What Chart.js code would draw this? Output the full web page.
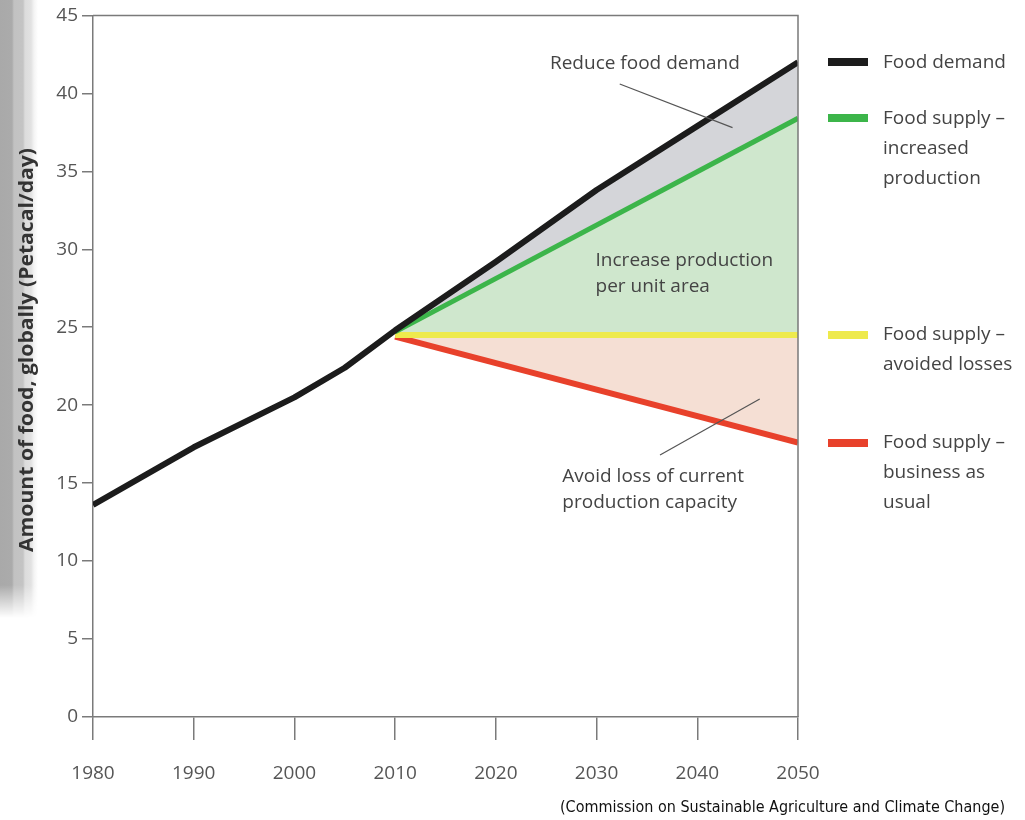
<!DOCTYPE html>
<html>
<head>
<meta charset="utf-8">
<script src="https://cdn.jsdelivr.net/npm/chart.js@4/dist/chart.umd.min.js"></script>
<style>
  html, body { margin: 0; padding: 0; background: #fff; }
  #wrap { position: relative; width: 1025px; height: 820px; }
  #strip {
    position: absolute; left: 0; top: 0; width: 40px; height: 620px;
    background: linear-gradient(to right, #a9a9a9 0, #ababab 12px, #c2c2c2 14px, #c4c4c4 23px, #dcdcdc 25px, #e2e2e2 31px, #f4f4f4 34px, #fff 38px);
    -webkit-mask-image: linear-gradient(to bottom, #000 585px, transparent 618px);
    mask-image: linear-gradient(to bottom, #000 585px, transparent 618px);
  }
  canvas { position: absolute; left: 0; top: 0; }
</style>
</head>
<body>
<div id="wrap">
  <div id="strip"></div>
  <canvas id="foodChart" width="1025" height="820"></canvas>
</div>
<script>
// demand history + projection
const demandYears = [1980, 1990, 2000, 2005, 2010, 2020, 2030, 2040, 2050];
const demandValues = [13.6, 17.3, 20.5, 22.4, 24.8, 29.2, 33.8, 37.9, 42.0];

// supply scenarios, 2010 -> 2050
const projYears = [2010, 2050];
const increasedProduction = [24.7, 38.4];
const avoidedLosses = [24.5, 24.5];
const businessAsUsual = [24.4, 17.6];

const yTicks = [0, 5, 10, 15, 20, 25, 30, 35, 40, 45];
const xTicks = [1980, 1990, 2000, 2010, 2020, 2030, 2040, 2050];

const seriesNames = ['Food demand', 'Food supply – increased production', 'Food supply – avoided losses', 'Food supply – business as usual'];
const legendLines = [
  ['Food demand'],
  ['Food supply –', 'increased', 'production'],
  ['Food supply –', 'avoided losses'],
  ['Food supply –', 'business as', 'usual']
];
const lineColors = ['#1c1c1c', '#3cb54a', '#eeea4c', '#e8412b'];
const fillColors = ['rgba(0,0,0,0)', '#d4d5d9', '#cfe7cd', '#f5dfd4'];

const yTitle = 'Amount of food, globally (Petacal/day)';
const sourceNote = '(Commission on Sustainable Agriculture and Climate Change)';

// text labels placed in data units
const notes = [
  { lines: ['Reduce food demand'], x: 2034.8, y: 41.9, align: 'center' },
  { lines: ['Increase production', 'per unit area'], x: 2029.9, y: 29.3, align: 'left' },
  { lines: ['Avoid loss of current', 'production capacity'], x: 2026.6, y: 15.4, align: 'left' }
];
const leaders = [
  { from: [2032.3, 40.6], to: [2043.5, 37.8] },
  { from: [2036.3, 16.8], to: [2046.2, 20.4] }
];

const FONT = "'Open Sans', 'DejaVu Sans', sans-serif";
const AXIS = '#7a7a7a';

function pts(xs, ys) {
  return xs.map((x, i) => ({ x: x, y: ys[i] }));
}

const seriesData = [
  pts(demandYears, demandValues),
  pts(projYears, increasedProduction),
  pts(projYears, avoidedLosses),
  pts(projYears, businessAsUsual)
];

const datasets = seriesData.map((d, i) => ({
  label: seriesNames[i],
  data: d,
  borderColor: lineColors[i],
  backgroundColor: fillColors[i],
  borderWidth: i === 1 ? 5 : 6,
  pointRadius: 0,
  tension: 0,
  borderCapStyle: 'butt',
  borderJoinStyle: 'round',
  fill: i === 0 ? false : { target: i - 1, above: fillColors[i], below: fillColors[i] }
}));

// squeeze/stretch a string to a set length
function fitText(ctx, text, x, y, len) {
  const w = ctx.measureText(text).width;
  ctx.save();
  ctx.translate(x, y);
  ctx.scale(len / w, 1);
  ctx.fillText(text, 0, 0);
  ctx.restore();
}

// frame on top/right, annotations, side legend, axis title, source line
const extras = {
  id: 'extras',
  afterDatasetsDraw(chart) {
    const ctx = chart.ctx;
    const a = chart.chartArea;
    const xs = chart.scales.x, ys = chart.scales.y;
    ctx.save();
    ctx.strokeStyle = AXIS;
    ctx.lineWidth = 1.5;
    ctx.beginPath();
    ctx.moveTo(a.left, a.top);
    ctx.lineTo(a.right, a.top);
    ctx.lineTo(a.right, a.bottom);
    ctx.stroke();

    // leader lines
    ctx.strokeStyle = '#555';
    ctx.lineWidth = 1.2;
    leaders.forEach(l => {
      ctx.beginPath();
      ctx.moveTo(xs.getPixelForValue(l.from[0]), ys.getPixelForValue(l.from[1]));
      ctx.lineTo(xs.getPixelForValue(l.to[0]), ys.getPixelForValue(l.to[1]));
      ctx.stroke();
    });

    ctx.fillStyle = '#444';
    ctx.font = '19px ' + FONT;
    ctx.textBaseline = 'middle';
    notes.forEach(n => {
      ctx.textAlign = n.align;
      const px = xs.getPixelForValue(n.x);
      const py = ys.getPixelForValue(n.y);
      n.lines.forEach((t, k) => ctx.fillText(t, px, py + k * 26));
    });

    // legend beside the line ends
    ctx.textAlign = 'left';
    seriesData.forEach((d, i) => {
      const py = ys.getPixelForValue(d[d.length - 1].y);
      ctx.fillStyle = lineColors[i];
      ctx.fillRect(828, Math.round(py) - 4, 40, 8);
      ctx.fillStyle = '#444';
      legendLines[i].forEach((t, k) => ctx.fillText(t, 883, py + k * 30));
    });

    // vertical axis title
    ctx.save();
    ctx.translate(28, 350);
    ctx.rotate(-Math.PI / 2);
    ctx.fillStyle = '#333';
    ctx.font = 'bold 19px ' + FONT;
    ctx.textAlign = 'left';
    fitText(ctx, yTitle, -202, 0, 404);
    ctx.restore();

    ctx.fillStyle = '#111';
    ctx.font = "15px 'DejaVu Sans Condensed', 'DejaVu Sans', sans-serif";
    ctx.textAlign = 'left';
    fitText(ctx, sourceNote, 560, 808, 445);
    ctx.restore();
  }
};

new Chart(document.getElementById('foodChart'), {
  type: 'line',
  data: { datasets: datasets },
  options: {
    responsive: false,
    animation: false,
    layout: { padding: { top: 15, right: 227, left: 0, bottom: 0 } },
    plugins: {
      legend: { display: false },
      tooltip: { enabled: false }
    },
    scales: {
      x: {
        type: 'linear',
        min: 1980,
        max: 2050,
        afterFit(scale) { scale.height = 103; },
        afterBuildTicks(scale) { scale.ticks = xTicks.map(v => ({ value: v })); },
        ticks: {
          padding: 22,
          color: '#555',
          font: { family: FONT, size: 19 },
          callback: v => String(v)
        },
        grid: { drawOnChartArea: false, drawTicks: true, tickLength: 23, color: AXIS, lineWidth: 1.5 },
        border: { color: AXIS, width: 1.5 }
      },
      y: {
        min: 0,
        max: 45,
        afterFit(scale) { scale.width = 93; },
        afterBuildTicks(scale) { scale.ticks = yTicks.map(v => ({ value: v })); },
        ticks: {
          padding: 4,
          color: '#555',
          font: { family: FONT, size: 19 }
        },
        grid: { drawOnChartArea: false, drawTicks: true, tickLength: 11, color: AXIS, lineWidth: 1.5 },
        border: { color: AXIS, width: 1.5 }
      }
    }
  },
  plugins: [extras]
});
</script>
</body>
</html>
